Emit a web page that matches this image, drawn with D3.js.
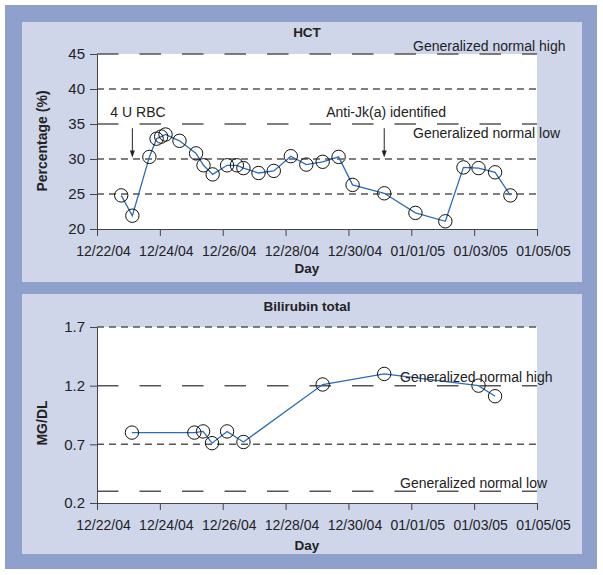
<!DOCTYPE html>
<html><head><meta charset="utf-8">
<script src="https://cdn.jsdelivr.net/npm/d3@7/dist/d3.min.js"></script>
<style>
body{margin:0;background:#fff;}
svg text{font-family:"Liberation Sans",Arial,sans-serif;fill:#222;}
</style></head>
<body><svg id="c" width="603" height="575"></svg>
<script>
// ---- data ----
const xTickLabels = ["12/22/04","12/24/04","12/26/04","12/28/04","12/30/04","01/01/05","01/03/05","01/05/05"];
const hctTimes = ["2004-12-22 18:30","2004-12-23 03:00","2004-12-23 16:00","2004-12-23 21:30","2004-12-24 01:00","2004-12-24 04:20","2004-12-24 15:00","2004-12-25 03:40","2004-12-25 09:20","2004-12-25 16:20","2004-12-26 03:20","2004-12-26 10:50","2004-12-26 15:50","2004-12-27 03:20","2004-12-27 15:00","2004-12-28 04:00","2004-12-28 15:50","2004-12-29 04:20","2004-12-29 16:30","2004-12-30 03:10","2004-12-31 03:20","2005-01-01 03:10","2005-01-02 02:00","2005-01-02 15:50","2005-01-03 03:20","2005-01-03 16:00","2005-01-04 03:40"];
const hctValues = [24.8,21.9,30.3,32.9,33.2,33.5,32.6,30.8,29.1,27.8,29.1,29.1,28.7,28.0,28.3,30.4,29.2,29.6,30.3,26.3,25.1,22.3,21.1,28.8,28.7,28.1,24.8];
const hctTicks = [20,25,30,35,40,45];
const hctNormal = [35,45];       // long dash lines
const hctGrid = [25,30,40];      // short dash lines
const biliTimes = ["2004-12-23 02:40","2004-12-25 02:20","2004-12-25 09:00","2004-12-25 15:50","2004-12-26 03:20","2004-12-26 15:50","2004-12-29 04:20","2004-12-31 03:20","2005-01-03 03:20","2005-01-03 16:00"];
const biliValues = [0.80,0.80,0.81,0.71,0.81,0.72,1.21,1.30,1.20,1.11];
const biliTicks = [0.2,0.7,1.2,1.7];
const biliNormal = [0.3,1.2];
const biliGrid = [0.7,1.7];
const hctArrows = [{t:"2004-12-23 03:00",label:"4 U RBC"},{t:"2004-12-31 03:20",label:"Anti-Jk(a) identified"}];

// ---- layout ----
const svg = d3.select("#c");
const parseT = d3.utcParse("%Y-%m-%d %H:%M");
const parseTick = d3.utcParse("%m/%d/%y");
const tickDates = xTickLabels.map(parseTick);
const fmtTick = d3.utcFormat("%m/%d/%y");

svg.append("rect").attr("x",5).attr("y",5).attr("width",592).attr("height",564).attr("fill","#8fa0cc");

function panel(cfg){
  const g = svg.append("g");
  g.append("rect").attr("x",22).attr("y",cfg.panelTop).attr("width",560).attr("height",cfg.panelH).attr("fill","#cfd6ea");
  const x = d3.scaleUtc().domain([tickDates[0], tickDates[tickDates.length-1]]).range([97,537]);
  const y = d3.scaleLinear().domain(cfg.domain).range([cfg.bottom, cfg.top]);
  g.append("rect").attr("x",97).attr("y",cfg.top).attr("width",440).attr("height",cfg.bottom-cfg.top).attr("fill","#fff");
  g.selectAll(".nl").data(cfg.normal).join("line")
    .attr("x1",97).attr("x2",537).attr("y1",d=>y(d)).attr("y2",d=>y(d))
    .attr("stroke","#555").attr("stroke-width",1.5).attr("stroke-dasharray","21.5,21");
  g.selectAll(".gl").data(cfg.grid).join("line")
    .attr("x1",97).attr("x2",537).attr("y1",d=>y(d)).attr("y2",d=>y(d))
    .attr("stroke","#555").attr("stroke-width",1.5).attr("stroke-dasharray","7,5");
  const xa = g.append("g").attr("transform",`translate(0,${cfg.bottom})`)
    .call(d3.axisBottom(x).tickValues(tickDates).tickFormat(fmtTick).tickSize(7).tickSizeOuter(0).tickPadding(8));
  xa.select(".domain").attr("stroke","#444");
  xa.selectAll(".tick line").attr("stroke","#444");
  xa.selectAll("text").attr("font-size","14px").attr("fill","#222").attr("dx",6).attr("dy","0.85em");
  const ya = g.append("g").attr("transform","translate(97,0)")
    .call(d3.axisLeft(y).tickValues(cfg.ticks).tickFormat(cfg.fmt).tickSize(7).tickSizeOuter(0).tickPadding(5));
  ya.select(".domain").attr("stroke","#444");
  ya.selectAll(".tick line").attr("stroke","#444");
  ya.selectAll("text").attr("font-size","15px").attr("fill","#222");
  g.append("text").attr("x",307).attr("y",cfg.titleY).attr("text-anchor","middle").attr("font-weight","bold").attr("font-size","13.5px").text(cfg.title);
  g.append("text").attr("x",307).attr("y",cfg.dayY).attr("text-anchor","middle").attr("font-weight","bold").attr("font-size","13.5px").text("Day");
  g.append("text").attr("transform",`translate(47,${cfg.ylabY}) rotate(-90)`).attr("text-anchor","middle").attr("font-weight","bold").attr("font-size","14px").text(cfg.ylab);
  const pts = cfg.times.map((t,i)=>({t:parseT(t),v:cfg.values[i]}));
  g.append("path").datum(pts).attr("fill","none").attr("stroke","#2b6cb8").attr("stroke-width",1.3)
    .attr("d",d3.line().x(d=>x(d.t)).y(d=>y(d.v)));
  g.selectAll(".pt").data(pts).join("circle").attr("cx",d=>x(d.t)).attr("cy",d=>y(d.v)).attr("r",6.7)
    .attr("fill","none").attr("stroke","#111").attr("stroke-width",1);
  return {g,x,y};
}

const hctPanel = panel({panelTop:22,panelH:260,top:54,bottom:229,domain:[20,45],ticks:hctTicks,fmt:d3.format("d"),
  normal:hctNormal,grid:hctGrid,title:"HCT",titleY:37,dayY:273,ylab:"Percentage (%)",ylabY:141,times:hctTimes,values:hctValues});
const biliPanel = panel({panelTop:294,panelH:260,top:327,bottom:503,domain:[0.2,1.7],ticks:biliTicks,fmt:d3.format(".1f"),
  normal:biliNormal,grid:biliGrid,title:"Bilirubin total",titleY:311,dayY:550,ylab:"MG/DL",ylabY:423,times:biliTimes,values:biliValues});

function normLabel(p,xv,yb,txt){
  p.g.append("text").attr("x",xv).attr("y",yb).attr("font-size","14px").text(txt);
}
normLabel(hctPanel,413,51,"Generalized normal high");
normLabel(hctPanel,413,137.5,"Generalized normal low");
normLabel(biliPanel,400,381.5,"Generalized normal high");
normLabel(biliPanel,400,488,"Generalized normal low");

const labelOffsets = [-22,-58];
hctArrows.forEach((a,i)=>{
  const ax = hctPanel.x(parseT(a.t));
  const y1 = hctPanel.y(34.4), y2 = hctPanel.y(30.2);
  hctPanel.g.append("line").attr("x1",ax).attr("x2",ax).attr("y1",y1).attr("y2",y2-6).attr("stroke","#222").attr("stroke-width",1);
  hctPanel.g.append("path").attr("d",`M${ax-2.5},${y2-7}L${ax+2.5},${y2-7}L${ax},${y2}Z`).attr("fill","#222");
  hctPanel.g.append("text").attr("x",ax+labelOffsets[i]).attr("y",117).attr("font-size","14px").text(a.label);
});
</script></body></html>
